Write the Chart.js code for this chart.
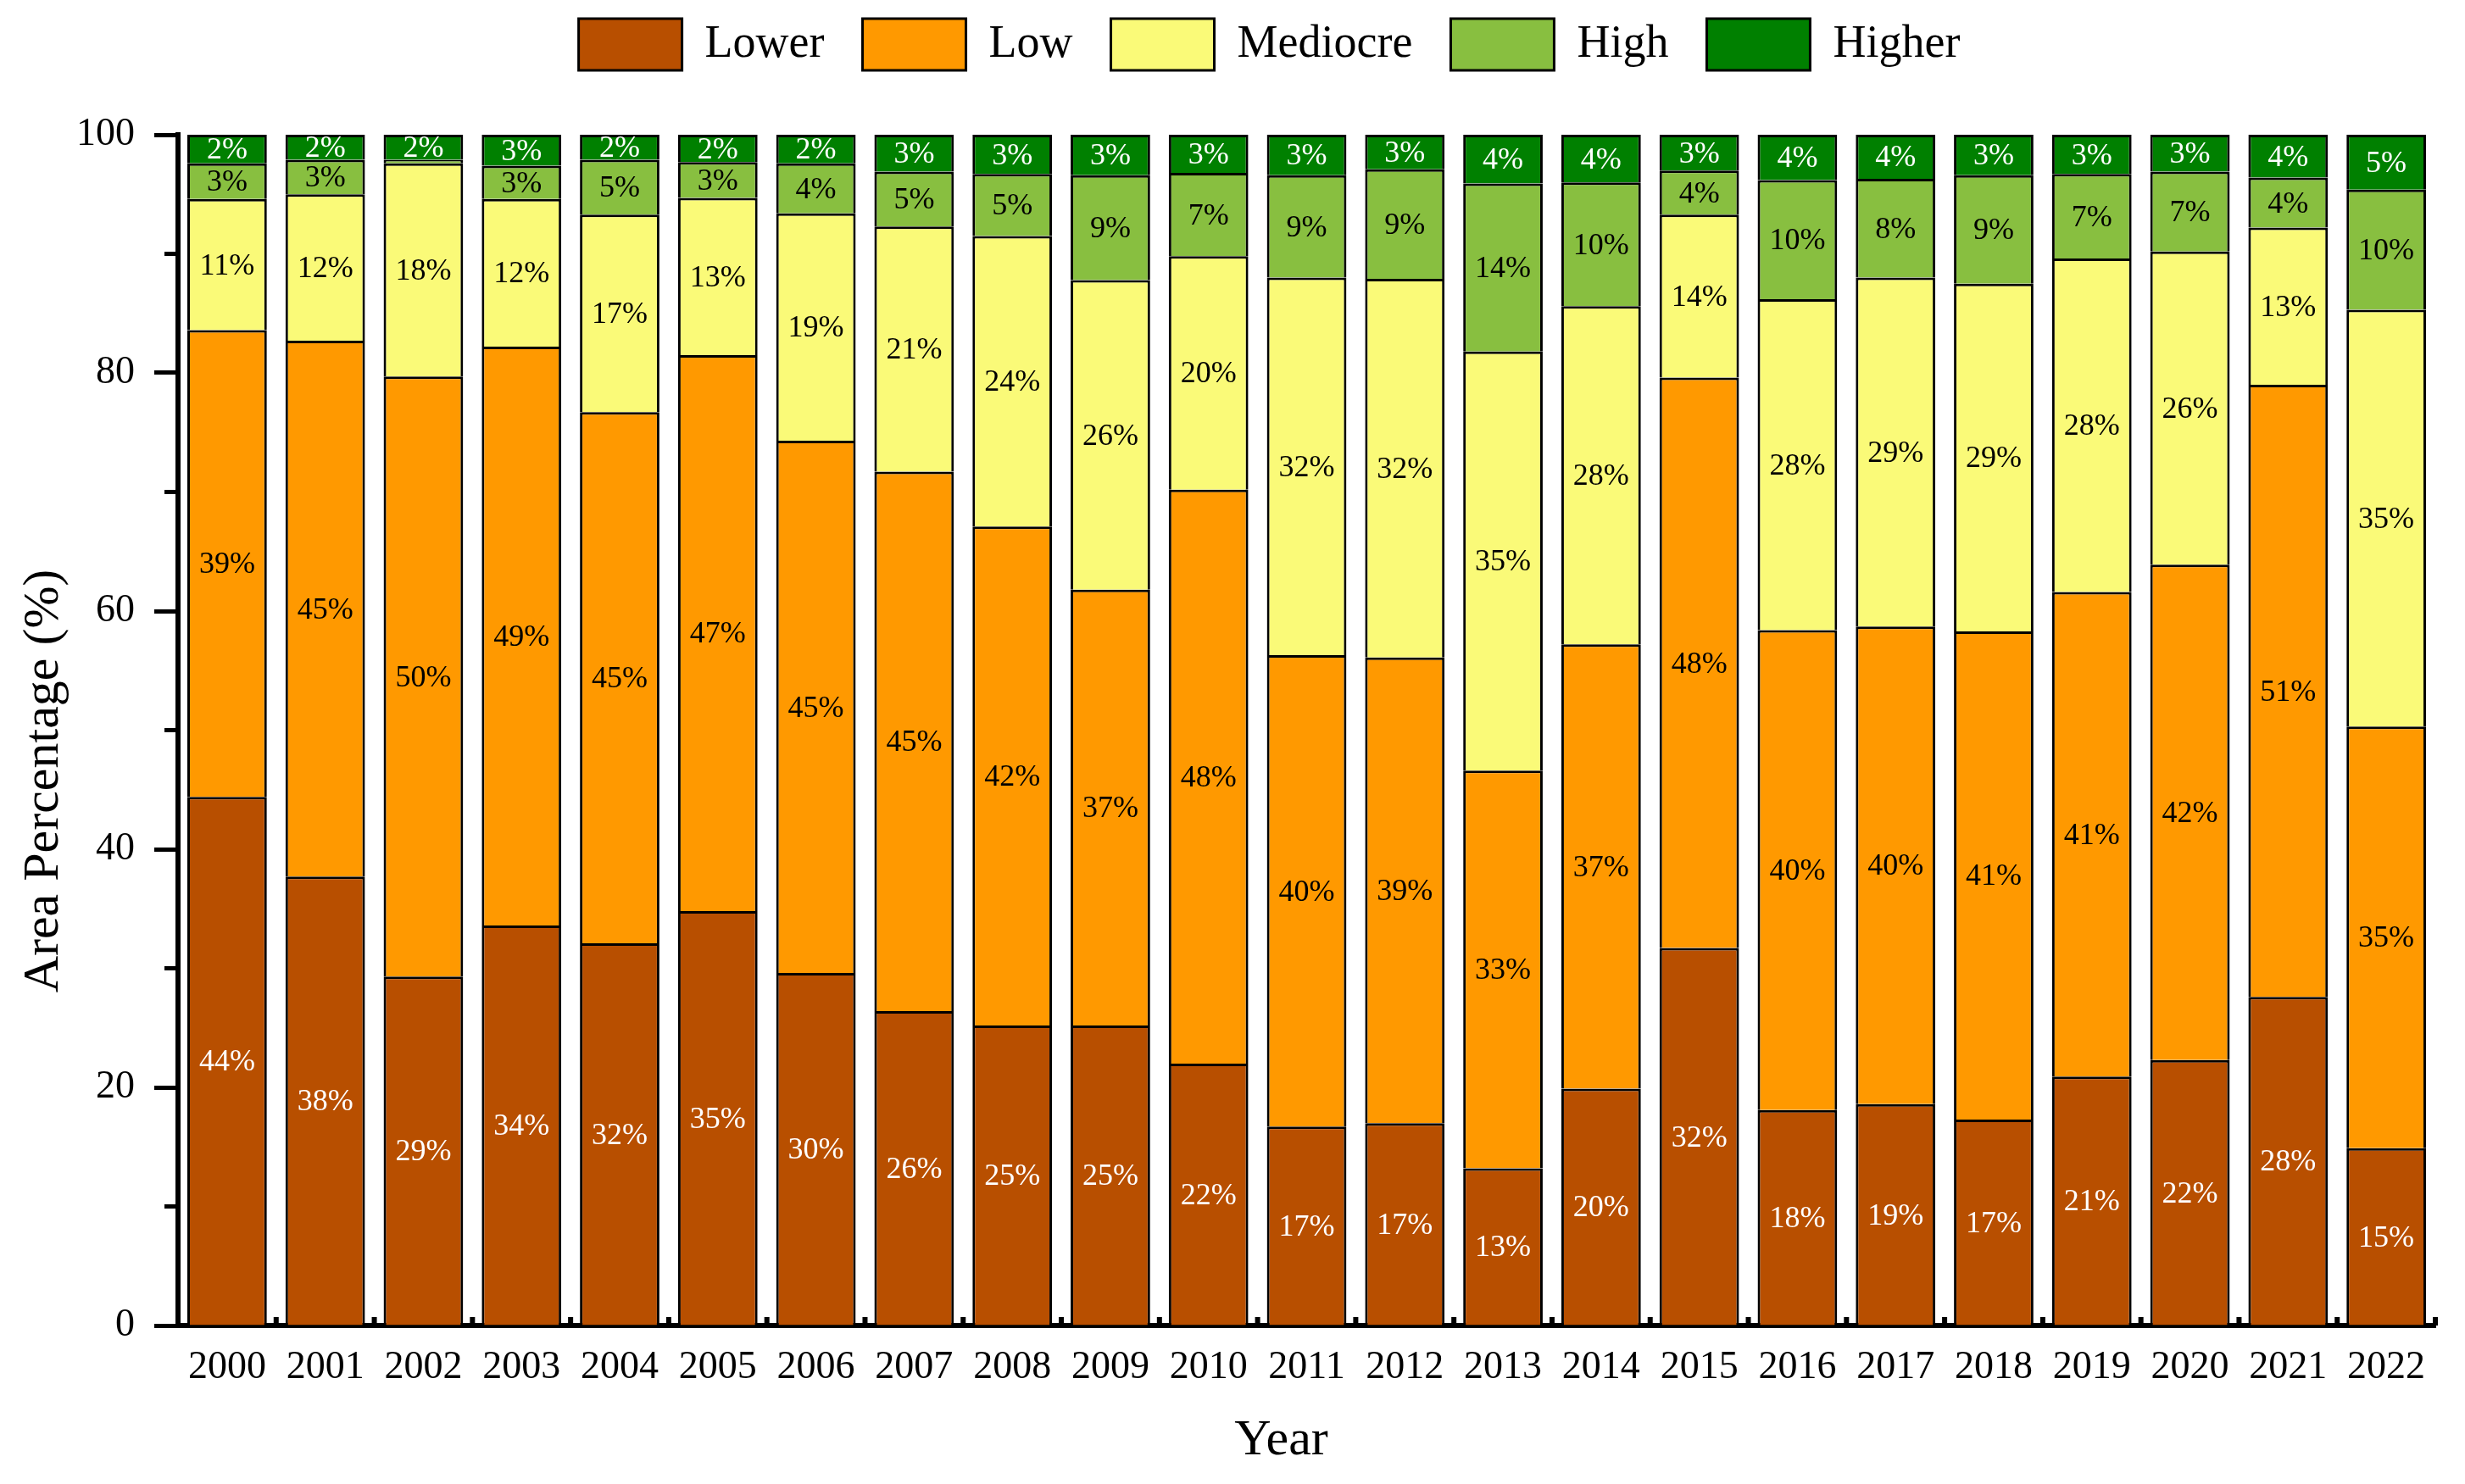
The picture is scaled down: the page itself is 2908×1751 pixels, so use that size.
<!DOCTYPE html>
<html>
<head>
<meta charset="utf-8">
<script src="https://cdn.jsdelivr.net/npm/chart.js@4"></script>
<style>
    body { margin: 0; background: #fff; }
    #wrap { width: 2908px; height: 1751px; }
</style>
</head>
<body>
<div id="wrap"><canvas id="areaChart"></canvas></div>
<script>
// Area percentage by class, 2000-2022 (stacked to 100%)
const years = ['2000','2001','2002','2003','2004','2005','2006','2007','2008','2009','2010','2011',
               '2012','2013','2014','2015','2016','2017','2018','2019','2020','2021','2022'];

const lower    = [44.4,37.7,29.3,33.6,32.1,34.8,29.6,26.4,25.2,25.2,22.0,16.7,17.0,13.2,19.9,31.7,18.1,18.6,17.3,20.9,22.3,27.6,14.9];
const low      = [39.2,45.0,50.4,48.6,44.6,46.7,44.7,45.3,41.9,36.6,48.2,39.6,39.1,33.4,37.3,47.9,40.3,40.1,41.0,40.7,41.6,51.4,35.4];
const mediocre = [11.0,12.3,17.9,12.4,16.6,13.2,19.1,20.6,24.4,26.0,19.6,31.7,31.8,35.2,28.4,13.7,27.8,29.3,29.2,28.0,26.3,13.2,35.0];
const high     = [3.0,2.9,0.3,2.8,4.6,3.0,4.2,4.6,5.2,8.8,7.0,8.6,9.2,14.1,10.4,3.7,10.0,8.3,9.1,7.1,6.7,4.2,10.1];
const higher   = [2.4,2.1,2.1,2.6,2.1,2.3,2.4,3.1,3.3,3.4,3.2,3.4,2.9,4.1,4.0,3.0,3.8,3.7,3.4,3.3,3.1,3.6,4.6];

const seriesNames = ['Lower', 'Low', 'Mediocre', 'High', 'Higher'];
const seriesData = [lower, low, mediocre, high, higher];
const fillColors = ['#B84F00', '#FF9900', '#FAFA78', '#88BF40', '#008000'];
const labelColors = ['#ffffff', '#000000', '#000000', '#000000', '#ffffff'];

const FONT = '"Liberation Serif", "Times New Roman", serif';
Chart.defaults.font.family = FONT;
Chart.defaults.color = '#000';

const isMinor = (v) => v % 20 !== 0;

// --- percentage text inside each segment ---
const barLabels = {
    id: 'barLabels',
    afterDatasetsDraw(chart) {
        const ctx = chart.ctx;
        ctx.save();
        ctx.font = '36px ' + FONT;
        ctx.textAlign = 'center';
        ctx.textBaseline = 'middle';
        chart.data.datasets.forEach((ds, di) => {
            chart.getDatasetMeta(di).data.forEach((bar, i) => {
                const v = ds.data[i];
                if (v < 1) return; // sliver too thin for a label
                const p = bar.getProps(['x', 'y', 'base'], true);
                ctx.fillStyle = labelColors[di];
                ctx.fillText(Math.round(v) + '%', p.x, (p.y + p.base) / 2 + 2);
            });
        });
        ctx.restore();
    }
};

// --- legend spacing, short minor y ticks, small inward ticks between the year columns ---
const frame = {
    id: 'frame',
    beforeInit(chart) {
        const lg = chart.legend;
        const fit = lg.fit;
        lg.fit = function () {
            fit.call(this);
            this.height += 43;
        };
    },
    afterLayout(chart) {
        const lg = chart.legend;
        lg.top -= 23; lg.bottom -= 23;
        lg.left += 61; lg.right += 61;
    },
    afterDraw(chart) {
        const ctx = chart.ctx;
        const area = chart.chartArea;
        const x = chart.scales.x;
        const y = chart.scales.y;
        ctx.save();
        ctx.fillStyle = '#000';
        const step = x.width / years.length;
        for (let i = 1; i <= years.length; i++) {
            const px = x.left + step * i;
            ctx.fillRect(px - 3, area.bottom - 10, 6, 10);
        }
        y.ticks.forEach((t) => {
            if (!isMinor(t.value)) return;
            const py = y.getPixelForValue(t.value);
            ctx.fillRect(area.left - 16, py - 2.5, 16, 5);
        });
        ctx.restore();
    }
};

new Chart(document.getElementById('areaChart'), {
    type: 'bar',
    data: {
        labels: years,
        datasets: seriesNames.map((name, i) => ({
            label: name,
            data: seriesData[i],
            backgroundColor: fillColors[i],
            borderColor: '#000',
            borderWidth: 3,
            categoryPercentage: 1.0,
            barPercentage: 0.81
        }))
    },
    options: {
        responsive: true,
        maintainAspectRatio: false,
        devicePixelRatio: 1,
        animation: false,
        layout: { padding: { left: 0, right: 35, top: 0, bottom: 0 } },
        plugins: {
            legend: {
                position: 'top',
                labels: {
                    boxWidth: 122,
                    boxHeight: 61,
                    padding: 45,
                    color: '#000',
                    font: { size: 54, family: FONT }
                }
            },
            tooltip: { enabled: false }
        },
        scales: {
            x: {
                stacked: true,
                afterFit(scale) { scale.height = 187; },
                border: { display: true, color: '#000', width: 6 },
                grid: { display: true, drawOnChartArea: false, drawTicks: false },
                ticks: {
                    autoSkip: false,
                    maxRotation: 0,
                    padding: 22,
                    color: '#000',
                    font: { size: 46, family: FONT }
                },
                title: {
                    display: true,
                    text: 'Year    ',
                    color: '#000',
                    font: { size: 60, family: FONT },
                    padding: { top: 0, bottom: 15 }
                }
            },
            y: {
                stacked: true,
                min: 0,
                max: 100,
                afterFit(scale) { scale.width = 210; },
                border: { display: true, color: '#000', width: 6 },
                grid: {
                    drawOnChartArea: false,
                    drawTicks: true,
                    tickLength: 28,
                    tickWidth: 5,
                    // minor ticks are drawn shorter by the frame plugin
                    tickColor: (c) => (c.tick && isMinor(c.tick.value)) ? 'rgba(0,0,0,0)' : '#000'
                },
                ticks: {
                    stepSize: 10,
                    padding: 23,
                    color: '#000',
                    font: { size: 46, family: FONT },
                    callback: (v) => (isMinor(v) ? '' : v)
                },
                title: {
                    display: true,
                    text: 'Area Percentage (%)        ',
                    color: '#000',
                    font: { size: 60, family: FONT },
                    padding: { top: 16, bottom: 0 }
                }
            }
        }
    },
    plugins: [barLabels, frame]
});
</script>
</body>
</html>
